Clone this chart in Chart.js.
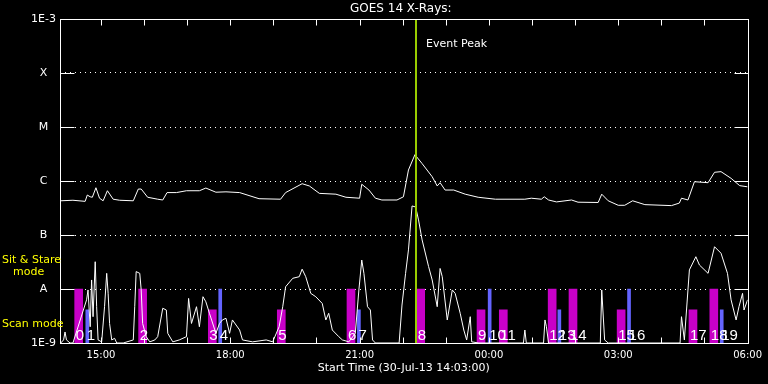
<!DOCTYPE html>
<html>
<head>
<meta charset="utf-8">
<script src="https://cdn.jsdelivr.net/npm/chart.js@4.4.0/dist/chart.umd.min.js"></script>
<style>
    html, body { margin: 0; padding: 0; background: #000; }
</style>
</head>
<body>
<canvas id="goesChart" width="768" height="384"></canvas>
<script>
// GOES 14 long channel (1-8 A)
const upperTimes = ['14:04','14:21','14:38','14:41','14:45','14:48','14:53','14:58','15:03','15:09','15:17','15:26','15:45','15:52','15:56','16:05','16:19','16:26','16:32','16:45','16:59','17:17','17:26','17:40','17:54','18:13','18:40','19:10','19:17','19:40','19:50','20:04','20:27','20:41','21:00','21:03','21:13','21:22','21:31','21:52','22:01','22:08','22:17','22:27','22:41','22:48','22:52','22:59','23:11','23:27','23:45','00:09','00:50','00:59','01:13','01:17','01:23','01:34','01:55','02:04','02:32','02:37','02:46','03:00','03:09','03:20','03:37','04:14','04:25','04:28','04:37','04:46','05:05','05:14','05:23','05:37','05:49','06:00'];
const upperFlux = [4.3e-7,4.4e-7,4.2e-7,5.5e-7,5.1e-7,5.0e-7,7.5e-7,4.8e-7,4.3e-7,6.6e-7,4.6e-7,4.4e-7,4.3e-7,7.1e-7,7.1e-7,5.0e-7,4.6e-7,4.45e-7,6.1e-7,6.1e-7,6.6e-7,6.6e-7,7.4e-7,6.2e-7,6.3e-7,6.1e-7,4.7e-7,4.6e-7,6.1e-7,8.9e-7,8.1e-7,5.9e-7,5.7e-7,5.0e-7,4.8e-7,8.7e-7,6.8e-7,4.8e-7,4.45e-7,4.45e-7,5.1e-7,1.6e-6,3.07e-6,2.1e-6,1.2e-6,8.1e-7,9.3e-7,6.8e-7,6.8e-7,5.7e-7,5.0e-7,4.6e-7,4.6e-7,4.8e-7,4.6e-7,5.1e-7,4.45e-7,4.1e-7,4.45e-7,4.05e-7,4.0e-7,5.7e-7,4.3e-7,3.55e-7,3.55e-7,4.3e-7,3.65e-7,3.5e-7,3.9e-7,4.8e-7,4.45e-7,9.7e-7,9.3e-7,1.45e-6,1.49e-6,1.12e-6,8.2e-7,7.8e-7];

// GOES 14 short channel (0.5-4 A)
const lowerTimes = ['14:04','14:08','14:10','14:12','14:17','14:21','14:40','14:42','14:45','14:47','14:49','14:52','14:54','14:56','15:01','15:05','15:08','15:10','15:12','15:15','15:19','15:22','15:31','15:45','15:47','15:49','15:54','15:56','15:58','16:03','16:08','16:15','16:19','16:26','16:31','16:33','16:40','16:49','16:59','17:02','17:06','17:13','17:17','17:22','17:26','17:31','17:40','17:45','17:49','17:54','17:59','18:03','18:13','18:17','18:31','18:50','18:59','19:08','19:13','19:17','19:27','19:36','19:40','19:45','19:52','19:59','20:08','20:13','20:17','20:22','20:31','20:36','20:45','20:54','20:59','21:03','21:06','21:11','21:15','21:18','21:22','21:55','21:59','22:04','22:08','22:13','22:18','22:22','22:27','22:36','22:41','22:48','22:52','22:55','23:02','23:09','23:13','23:20','23:25','23:29','23:34','23:36','23:46','00:48','00:50','00:52','01:16','01:18','01:20','01:23','02:35','02:37','02:41','02:46','04:26','04:28','04:32','04:39','04:48','04:53','05:05','05:14','05:23','05:32','05:37','05:44','05:48','05:53','05:55','06:00'];
const lowerFlux = [1.0e-9,1.14e-9,1.6e-9,1.14e-9,1.0e-9,1.0e-9,6.3e-9,9.6e-9,2.0e-9,1.47e-8,3.07e-9,3.2e-8,4.7e-9,1.14e-9,1.05e-9,4.7e-9,1.95e-8,8.3e-9,2.3e-9,1.14e-9,1.22e-9,1.0e-9,1.0e-9,1.14e-9,4.7e-9,2.1e-8,1.95e-8,9.6e-9,2.3e-9,1.31e-9,1.05e-9,1.14e-9,1.31e-9,4.4e-9,4.08e-9,1.51e-9,1.05e-9,1.14e-9,1.31e-9,6.7e-9,2.3e-9,4.7e-9,2.0e-9,7.2e-9,5.8e-9,3.55e-9,1.51e-9,2.3e-9,2.67e-9,2.87e-9,1.51e-9,2.67e-9,1.74e-9,1.14e-9,1.05e-9,1.14e-9,1.05e-9,2.0e-9,4.7e-9,1.1e-8,1.58e-8,1.69e-8,2.33e-8,1.69e-8,8.3e-9,7.2e-9,5.4e-9,2.67e-9,3.55e-9,1.74e-9,1.31e-9,1.14e-9,1.05e-9,1.51e-9,9.6e-9,3.44e-8,1.95e-8,4.7e-9,4.08e-9,1.14e-9,1.0e-9,1.0e-9,5.05e-9,1.95e-8,5.3e-8,3.45e-7,3.3e-7,1.9e-7,8.1e-8,2.6e-8,1.47e-8,4.7e-9,2.4e-8,1.69e-8,2.67e-9,9.6e-9,8.3e-9,3.55e-9,1.74e-9,1.14e-9,3.07e-9,1.05e-9,1.0e-9,1.0e-9,1.74e-9,1.0e-9,1.0e-9,2.67e-9,2.0e-9,1.0e-9,1.0e-9,9.6e-9,1.14e-9,1.0e-9,1.0e-9,3.07e-9,1.14e-9,2.26e-8,3.96e-8,2.78e-8,1.95e-8,6.06e-8,4.6e-8,1.95e-8,6.3e-9,2.67e-9,4.7e-9,8.3e-9,4.08e-9,6.3e-9];

// observation bars, numbered 0..19 in order
const barTimes = ['14:29','14:41','15:58','17:35','17:46','19:11','20:48','20:59','22:25','23:49','00:01','00:20','01:28','01:38','01:57','03:04','03:15','04:44','05:13','05:24'];
const barKinds = ['M','B','M','M','B','M','M','B','M','M','B','M','M','B','M','M','B','M','M','B'];
const barModes = ['stare','scan','stare','scan','stare','scan','stare','scan','stare','scan','stare','scan','stare','scan','stare','scan','stare','scan','stare','scan'];
const modeLevel = { stare: 1e-8, scan: 4.1e-9 };

const yTickValues = [1e-9, 1e-8, 1e-7, 1e-6, 1e-5, 1e-4, 1e-3];
const yTickLabels = ['1E-9', 'A', 'B', 'C', 'M', 'X', '1E-3'];
const xTickTimes = ['15:00', '18:00', '21:00', '00:00', '03:00', '06:00'];
const hourTicks = ['15:00','16:00','17:00','18:00','19:00','20:00','21:00','22:00','23:00','00:00','01:00','02:00','03:00','04:00','05:00'];
const startTime = '14:03';
const endTime = '06:00';
const eventPeakTime = '22:18';

// minutes since 00:00 on 30-Jul (times before noon are the next day)
function toMin(s) {
    var p = s.split(':');
    var h = +p[0], m = +p[1];
    return (h < 12 ? h + 24 : h) * 60 + m;
}

function pairs(times, vals) {
    return times.map(function (t, i) { return { x: toMin(t), y: vals[i] }; });
}

var magentaBars = [], blueBars = [];
barTimes.forEach(function (t, i) {
    var item = { x: toMin(t), y: [1e-9, modeLevel[barModes[i]]], n: i };
    if (barKinds[i] === 'M') magentaBars.push(item); else blueBars.push(item);
});

const goesDecor = {
    id: 'goesDecor',
    afterDatasetsDraw: function (chart) {
        var ctx = chart.ctx;
        var area = chart.chartArea;
        var xs = chart.scales.x, ys = chart.scales.y;
        ctx.save();

        // bar numbers
        ctx.fillStyle = '#fff';
        ctx.font = '15px "Liberation Sans Narrow", "Liberation Sans", sans-serif';
        ctx.textAlign = 'left';
        ctx.textBaseline = 'alphabetic';
        chart.data.datasets.forEach(function (ds, i) {
            if (ds.type !== 'bar') return;
            var meta = chart.getDatasetMeta(i);
            meta.data.forEach(function (bar, j) {
                ctx.fillText(String(ds.data[j].n), bar.x - bar.width / 2 + 1, area.bottom - 3);
            });
        });

        // event peak
        var px = Math.round(xs.getPixelForValue(toMin(eventPeakTime)));
        ctx.strokeStyle = '#99cc00';
        ctx.lineWidth = 2;
        ctx.beginPath();
        ctx.moveTo(px, area.top);
        ctx.lineTo(px, area.bottom);
        ctx.stroke();
        ctx.fillStyle = '#fff';
        ctx.font = '11px "DejaVu Sans", sans-serif';
        ctx.fillText('Event Peak', px + 10, area.top + 28);

        // frame and inward ticks
        ctx.strokeStyle = '#fff';
        ctx.lineWidth = 1;
        var l = Math.round(area.left) + 0.5, r = Math.round(area.right) + 0.5;
        var t = Math.round(area.top) + 0.5, b = Math.round(area.bottom) + 0.5;
        ctx.strokeRect(l, t, r - l, b - t);
        ctx.beginPath();
        yTickValues.forEach(function (v) {
            var y = Math.round(ys.getPixelForValue(v)) + 0.5;
            ctx.moveTo(l, y); ctx.lineTo(l + 14, y);
            ctx.moveTo(r, y); ctx.lineTo(r - 14, y);
        });
        hourTicks.forEach(function (h) {
            var x = Math.round(xs.getPixelForValue(toMin(h))) + 0.5;
            ctx.moveTo(x, t); ctx.lineTo(x, t + 6);
            ctx.moveTo(x, b); ctx.lineTo(x, b - 6);
        });
        ctx.stroke();

        // title and mode labels
        ctx.fillStyle = '#fff';
        ctx.font = '12px "DejaVu Sans", sans-serif';
        ctx.textAlign = 'center';
        ctx.textBaseline = 'middle';
        ctx.fillText('GOES 14 X-Rays:', (area.left + area.right) / 2 - 3, 9);

        ctx.fillStyle = '#ffff00';
        ctx.font = '11px "DejaVu Sans", sans-serif';
        ctx.textAlign = 'left';
        ctx.textBaseline = 'alphabetic';
        ctx.fillText('Sit & Stare', 2, 263);
        ctx.fillText('mode', 13, 275);
        ctx.fillText('Scan mode', 2, 327);
        ctx.restore();
    }
};

new Chart(document.getElementById('goesChart'), {
    type: 'line',
    data: {
        datasets: [
            {
                type: 'line',
                label: '1-8 A',
                data: pairs(upperTimes, upperFlux),
                borderColor: '#fff',
                borderWidth: 1,
                pointRadius: 0,
                order: 1
            },
            {
                type: 'line',
                label: '0.5-4 A',
                data: pairs(lowerTimes, lowerFlux),
                borderColor: '#fff',
                borderWidth: 1,
                pointRadius: 0,
                order: 1
            },
            {
                type: 'bar',
                label: 'magenta',
                data: magentaBars,
                backgroundColor: '#c800c8',
                barThickness: 8,
                grouped: false,
                order: 2
            },
            {
                type: 'bar',
                label: 'blue',
                data: blueBars,
                backgroundColor: '#6464ff',
                barThickness: 3,
                grouped: false,
                order: 2
            }
        ]
    },
    options: {
        responsive: false,
        animation: false,
        devicePixelRatio: 1,
        layout: { padding: { top: 19, right: 18, left: 0, bottom: 0 } },
        plugins: {
            legend: { display: false },
            tooltip: { enabled: false }
        },
        scales: {
            x: {
                type: 'linear',
                offset: false,
                min: toMin(startTime),
                max: toMin(endTime),
                afterBuildTicks: function (scale) {
                    scale.ticks = xTickTimes.map(function (t) { return { value: toMin(t) }; });
                },
                afterFit: function (scale) { scale.height = 41; },
                ticks: {
                    color: '#fff',
                    autoSkip: false,
                    maxRotation: 0,
                    padding: 6,
                    font: { family: 'DejaVu Sans', size: 10 },
                    callback: function (value, index) { return xTickTimes[index]; }
                },
                grid: { display: false, drawTicks: false },
                border: { display: false },
                title: {
                    display: true,
                    text: 'Start Time (30-Jul-13 14:03:00)',
                    color: '#fff',
                    font: { family: 'DejaVu Sans', size: 11 },
                    padding: { top: 0, bottom: 9 }
                }
            },
            y: {
                type: 'logarithmic',
                min: 1e-9,
                max: 1e-3,
                afterBuildTicks: function (scale) {
                    scale.ticks = yTickValues.map(function (v) { return { value: v }; });
                },
                afterFit: function (scale) { scale.width = 60; },
                ticks: {
                    color: '#fff',
                    autoSkip: false,
                    crossAlign: 'center',
                    padding: 4,
                    font: { family: 'DejaVu Sans', size: 11 },
                    callback: function (value, index) { return yTickLabels[index]; }
                },
                grid: { color: '#fff', lineWidth: 1, drawTicks: false },
                border: { display: false, dash: [1, 4] }
            }
        }
    },
    plugins: [goesDecor]
});
</script>
</body>
</html>
